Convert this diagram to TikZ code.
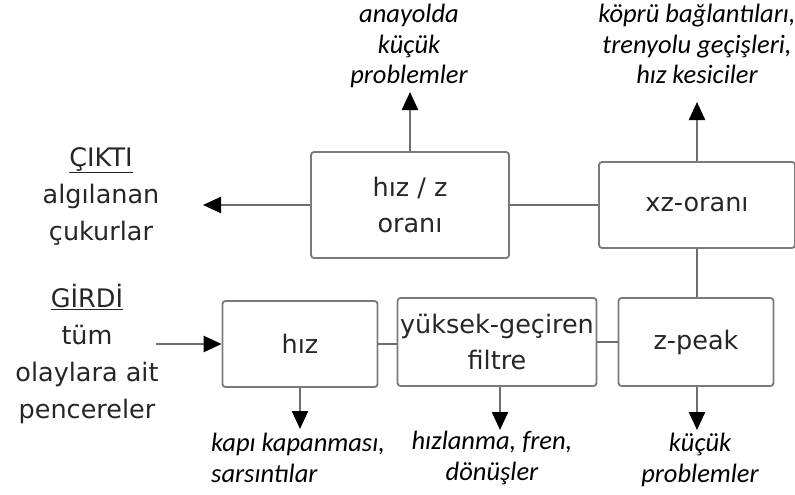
\documentclass[tikz,border=0pt]{standalone}
\usepackage{fontspec}
\setmainfont{DejaVu Sans}
\newfontfamily\notefont{Carlito}
\usetikzlibrary{arrows.meta}
\definecolor{boxgray}{HTML}{7A7A7A}
\definecolor{linegray}{HTML}{6E6E6E}
\definecolor{textdark}{HTML}{262626}

\begin{document}
\begin{tikzpicture}[x=1pt, y=-1pt,
        block/.style=
            {
                rectangle,
                draw = boxgray,
                line width = 1.8pt,
                fill = white,
                rounded corners = 3pt,
                inner sep = 0pt,
                align = center,
                text = textdark,
                font = \fontsize{25.5}{36}\selectfont
            },
        caption/.style=
            {
                inner sep = 0pt,
                align = center,
                text = textdark,
                font = \fontsize{25.5}{37}\selectfont
            },
        note/.style=
            {
                inner sep = 0pt,
                align = center,
                text = black,
                font = \notefont\itshape\fontsize{26.5}{30.5}\selectfont
            },
        link/.style=
            {
                draw = linegray,
                line width = 2.4pt
            },
        arrow/.style=
            {
                link,
                -{Triangle[length=18pt, width=16pt, color=black]}
            }
    ]
    \useasboundingbox (0,0) rectangle (795,495);

    % boxes
    \draw (410,205) node[block, minimum width=198, minimum height=106] (ratio) {hız / z\\oranı};
    \draw (697,205) node[block, minimum width=196, minimum height=86] (xz) {xz-oranı};
    \draw (300,344) node[block, minimum width=155, minimum height=86] (speed) {hız};
    \draw (497,342) node[block, minimum width=199, minimum height=88] (filter) {yüksek-geçiren\\filtre};
    \draw (696,342) node[block, minimum width=155, minimum height=88] (zpeak) {z-peak};

    % free ends
    \coordinate (input) at (156,344);
    \coordinate (output) at (203,205);
    \coordinate (ratioup) at (410,92);
    \coordinate (xzup) at (697,102);
    \coordinate (speeddown) at (300,429);
    \coordinate (filterdown) at (500,430);
    \coordinate (zpeakdown) at (697,430);

    % connectors
    \draw[arrow] (input) -- (speed.west);
    \draw[link] (speed.east) -- (filter.west |- speed.east);
    \draw[link] (filter.east) -- (zpeak.west);
    \draw[link] (zpeak.north -| xzup) -- (xz.south -| xzup);
    \draw[link] (xz.west) -- (ratio.east |- xz.west);
    \draw[arrow] (ratio.west) -- (output);
    \draw[arrow] (ratio.north) -- (ratioup);
    \draw[arrow] (xz.north -| xzup) -- (xzup);
    \draw[arrow] (speed.south) -- (speeddown);
    \draw[arrow] (filter.south -| filterdown) -- (filterdown);
    \draw[arrow] (zpeak.south -| zpeakdown) -- (zpeakdown);

    % texts
    \draw (101,196) node[caption] (outtext) {\underline{ÇIKTI}\\algılanan\\çukurlar};
    \draw (87,354) node[caption] (intext) {\underline{GİRDİ}\\tüm\\olaylara ait\\pencereler};
    \draw (409,46) node[note] (ratiotext) {anayolda\\küçük\\problemler};
    \draw (697,44) node[note] (xztext) {köprü bağlantıları,\\trenyolu geçişleri,\\hız kesiciler};
    \draw (211,458) node[note, anchor=west, align=left] (speedtext) {kapı kapanması,\\sarsıntılar};
    \draw (492,458) node[note] (filtertext) {hızlanma, fren,\\dönüşler};
    \draw (700,460) node[note] (zpeaktext) {küçük\\problemler};

\end{tikzpicture}
\end{document}
